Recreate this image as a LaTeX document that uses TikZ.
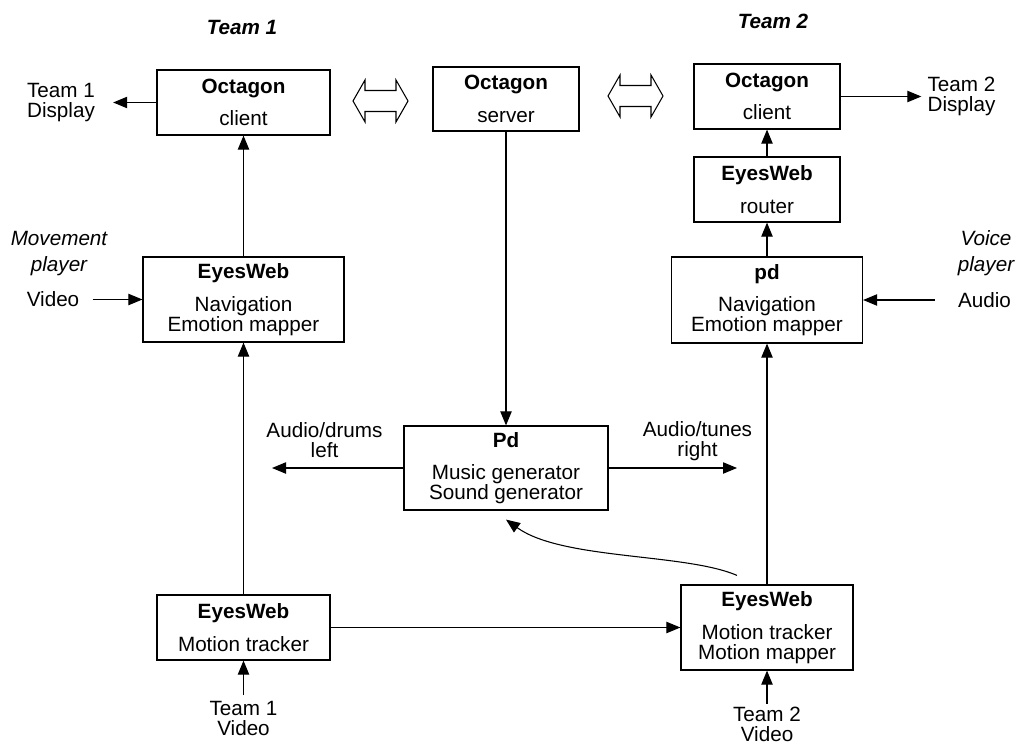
\documentclass[tikz,border=0pt]{standalone}
\usepackage{fontspec}
\setmainfont{Liberation Sans}
\usetikzlibrary{positioning,calc,arrows.meta}

\begin{document}
\begin{tikzpicture}[x=0.75pt, y=-0.75pt,
		font=\fontsize{15.5}{15}\selectfont,
		box/.style={draw, line width=0.9pt, align=center, inner sep=0pt},
		lbl/.style={align=center, inner sep=0pt},
		title/.style={lbl, font=\fontsize{15.5}{15}\selectfont\bfseries\itshape},
		arr/.style={-{Triangle[length=10.5pt,width=8.5pt]}, line width=0.8pt},
		hollow/.style={line width=0.8pt, line join=miter}]
				\useasboundingbox (0,0) rectangle (1019,745);
				% team titles
				\node[title] (team1) at (242,27) {Team 1};
				\node[title] (team2) at (773,21) {Team 2};
				% boxes
				\node[box, minimum width=129.75pt, minimum height=48.75pt] (client1) at (243.5,102.5) {\textbf{Octagon}\\[9.5pt]client};
				\node[box, minimum width=109.5pt, minimum height=48pt] (server) at (506,99) {\textbf{Octagon}\\[9.5pt]server};
				\node[box, minimum width=109.5pt, minimum height=48.75pt] (client2) at (767,96.5) {\textbf{Octagon}\\[9.5pt]client};
				\node[box, minimum width=109.5pt, minimum height=48.75pt] (router) at (767,189.5) {\textbf{EyesWeb}\\[9.5pt]router};
				\node[box, minimum width=150.75pt, minimum height=63.75pt] (nav1) at (243.5,299.5) {\textbf{EyesWeb}\\[9.5pt]Navigation\\Emotion mapper};
				\node[box, minimum width=143.25pt, minimum height=64.5pt] (nav2) at (767,300) {\textbf{pd}\\[9.5pt]Navigation\\Emotion mapper};
				\node[box, minimum width=153pt, minimum height=63pt] (pd) at (506,468) {\textbf{Pd}\\[9.5pt]Music generator\\Sound generator};
				\node[box, minimum width=129.75pt, minimum height=48.75pt] (track1) at (243.5,627.5) {\textbf{EyesWeb}\\[9.5pt]Motion tracker};
				\node[box, minimum width=129pt, minimum height=63.75pt] (track2) at (767,627.5) {\textbf{EyesWeb}\\[9.5pt]Motion tracker\\Motion mapper};
				% outside labels
				\node[lbl] (disp1) at (61,102.5) {Team 1\\Display};
				\node[lbl] (disp2) at (961.5,96.5) {Team 2\\Display};
				\node[lbl, font=\fontsize{15.5}{15}\selectfont\itshape] (mover) at (59,254) {Movement\\[4.5pt]player};
				\node[lbl] (video1) at (53,299.5) {Video};
				\node[lbl, font=\fontsize{15.5}{15}\selectfont\itshape] (voice) at (986,253.5) {Voice\\[4.5pt]player};
				\node[lbl] (audio2) at (984.5,300) {Audio};
				\node[lbl] (drums) at (324.5,440.5) {Audio/drums\\left};
				\node[lbl] (tunes) at (697.5,441) {Audio/tunes\\right};
				\node[lbl] (cam1) at (243.5,718.5) {Team 1\\Video};
				\node[lbl] (cam2) at (767,724.5) {Team 2\\Video};
				\coordinate (drumsout) at (272,468);
				\coordinate (tunesout) at (737,468);
				% connectors
				\draw[arr, shorten >=13.5pt] (client1) -- (disp1);
				\draw[arr, shorten >=4.5pt] (client2) -- (disp2);
				\draw[arr] (nav1) -- (client1);
				\draw[arr] (track1) -- (nav1);
				\draw[arr, shorten <=9.75pt] (video1) -- (nav1);
				\draw[arr] (server) -- (pd);
				\draw[arr] (pd.west) -- (drumsout);
				\draw[arr] (pd.east) -- (tunesout);
				\draw[arr] (router) -- (client2);
				\draw[arr] (nav2) -- (router);
				\draw[arr, shorten <=17.25pt] (audio2) -- (nav2);
				\draw[arr] (track2) -- (nav2);
				\draw[arr] (track1) -- (track2);
				\draw[arr, shorten <=4.5pt] (cam1) -- (track1);
				\draw[arr, shorten <=2.5pt] (cam2) -- (track2);
				\draw[arr] ($(track2.north)+(-30,-9)$) .. controls (685,553) and (562,560) .. ($(pd.south)+(0,9)$);
				% hollow double arrows
				\draw[hollow] (353,101) -- (365,80) -- (365,90.5) -- (396,90.5) -- (396,80) -- (408,101) -- (396,122) -- (396,111.5) -- (365,111.5) -- (365,122) -- cycle;
				\draw[hollow] (608,96) -- (620,75) -- (620,85.5) -- (651,85.5) -- (651,75) -- (663,96) -- (651,117) -- (651,106.5) -- (620,106.5) -- (620,117) -- cycle;
			\end{tikzpicture}
\end{document}
